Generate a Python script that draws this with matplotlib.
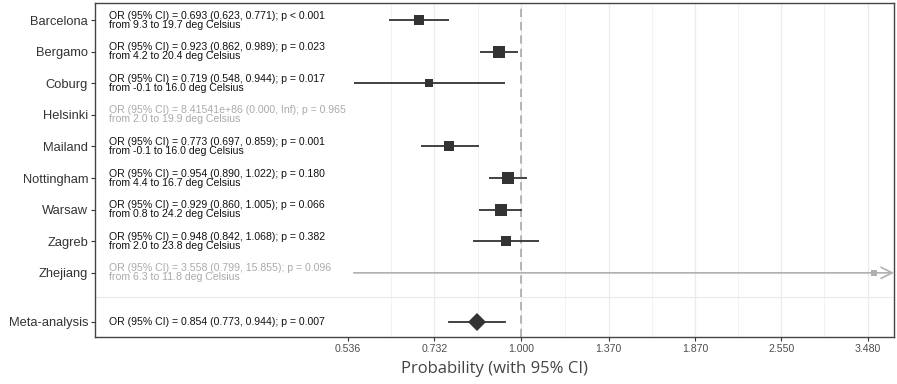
import numpy as np
import matplotlib.pyplot as plt
import matplotlib.transforms as mtransforms

# studies (top to bottom)
cities = ["Barcelona", "Bergamo", "Coburg", "Helsinki", "Mailand",
          "Nottingham", "Warsaw", "Zagreb", "Zhejiang"]
odds = [0.693, 0.923, 0.719, None, 0.773, 0.954, 0.929, 0.948, 3.558]
lower = [0.623, 0.862, 0.548, None, 0.697, 0.890, 0.860, 0.842, 0.799]
upper = [0.771, 0.989, 0.944, None, 0.859, 1.022, 1.005, 1.068, 15.855]
line1 = [
    "OR (95% CI) = 0.693 (0.623, 0.771); p < 0.001",
    "OR (95% CI) = 0.923 (0.862, 0.989); p = 0.023",
    "OR (95% CI) = 0.719 (0.548, 0.944); p = 0.017",
    "OR (95% CI) = 8.41541e+86 (0.000, Inf); p = 0.965",
    "OR (95% CI) = 0.773 (0.697, 0.859); p = 0.001",
    "OR (95% CI) = 0.954 (0.890, 1.022); p = 0.180",
    "OR (95% CI) = 0.929 (0.860, 1.005); p = 0.066",
    "OR (95% CI) = 0.948 (0.842, 1.068); p = 0.382",
    "OR (95% CI) = 3.558 (0.799, 15.855); p = 0.096",
]
line2 = [
    "from 9.3 to 19.7 deg Celsius",
    "from 4.2 to 20.4 deg Celsius",
    "from -0.1 to 16.0 deg Celsius",
    "from 2.0 to 19.9 deg Celsius",
    "from -0.1 to 16.0 deg Celsius",
    "from 4.4 to 16.7 deg Celsius",
    "from 0.8 to 24.2 deg Celsius",
    "from 2.0 to 23.8 deg Celsius",
    "from 6.3 to 11.8 deg Celsius",
]
faded = [False, False, False, True, False, False, False, False, True]

meta_label = "Meta-analysis"
meta_or, meta_lo, meta_hi = 0.854, 0.773, 0.944
meta_text = "OR (95% CI) = 0.854 (0.773, 0.944); p = 0.007"

xticks = [0.536, 0.732, 1.000, 1.370, 1.870, 2.550, 3.480]
xtick_labels = ["0.536", "0.732", "1.000", "1.370", "1.870", "2.550", "3.480"]

# square sizes per study
box_size = [7.2, 8.8, 5.2, 0, 7.4, 9.0, 8.0, 7.0, 3.8]

DARK = "#333333"
GREY = "#b0b0b0"

fig = plt.figure(figsize=(8.97, 3.84), dpi=100)
ax = fig.add_axes([95 / 897, 1 - 337 / 384, (894 - 95) / 897, (337 - 3) / 384])
ax.set_xscale("log")
xmin, xmax = 0.216, 3.826
ax.set_xlim(xmin, xmax)
ax.set_ylim(10.03, -0.54)

# grid: majors (except leftmost) and geometric midpoints
for t in xticks[1:]:
    ax.axvline(t, color="#ebebeb", lw=0.9, zorder=0)
for a, b in zip(xticks[:-1], xticks[1:]):
    ax.axvline(np.sqrt(a * b), color="#f2f2f2", lw=0.7, zorder=0)
ax.axhline(8.775, color="#ebebeb", lw=0.9, zorder=0)

ax.axvline(1.0, color="#aaaaaa", lw=1.2, ls=(0, (5, 3)), zorder=1)

ypos = np.arange(len(cities))
clip_lo = min(l for l in lower if l is not None)
for i, y in enumerate(ypos):
    if odds[i] is None:
        continue
    if faded[i]:
        ax.annotate("", xy=(xmax, y), xytext=(clip_lo, y),
                    arrowprops=dict(arrowstyle="->, head_length=0.8, head_width=0.4",
                                    color=GREY, lw=1.2, shrinkA=0, shrinkB=0),
                    zorder=2)
        ax.plot(odds[i], y, "s", color=GREY, ms=box_size[i], mew=0, zorder=3)
    else:
        ax.plot([lower[i], upper[i]], [y, y], color=DARK, lw=1.3, zorder=2,
                solid_capstyle="butt")
        ax.plot(odds[i], y, "s", color=DARK, ms=box_size[i], mew=0, zorder=3)

ymeta = 9.55
ax.plot([meta_lo, meta_hi], [ymeta, ymeta], color=DARK, lw=1.3, zorder=2)
ax.plot(meta_or, ymeta, "D", color=DARK, ms=8.8, mew=0, zorder=3)

trans = mtransforms.blended_transform_factory(ax.transAxes, ax.transData)
tx = (109 - 95) / (894 - 95)
for i, y in enumerate(ypos):
    c = "#aaaaaa" if faded[i] else "#111111"
    ax.annotate(line1[i], (tx, y), xycoords=trans, xytext=(0, 3.2),
                textcoords="offset points", ha="left", va="center",
                fontsize=7.6, color=c, family="Liberation Sans")
    ax.annotate(line2[i], (tx, y), xycoords=trans, xytext=(0, -3.3),
                textcoords="offset points", ha="left", va="center",
                fontsize=7.6, color=c, family="Liberation Sans")
ax.text(tx, ymeta, meta_text, transform=trans, ha="left", va="center",
        fontsize=7.6, color="#111111", family="Liberation Sans")

ax.set_yticks(list(ypos) + [ymeta])
ax.set_yticklabels(cities + [meta_label], family="Liberation Sans",
                   fontsize=9.3, color=DARK)
ax.set_xticks(xticks)
ax.set_xticklabels(xtick_labels, family="Liberation Sans", fontsize=7.6,
                   color="#4d4d4d")
ax.xaxis.set_minor_locator(plt.NullLocator())
ax.tick_params(axis="both", length=3, width=0.8, color=DARK, pad=2)
ax.set_xlabel("Probability (with 95% CI)", family="Open Sans", fontsize=12,
              color="#444444", labelpad=5)

for s in ax.spines.values():
    s.set_color("#444444")
    s.set_linewidth(1.0)

fig.savefig("out.png", dpi=100)
